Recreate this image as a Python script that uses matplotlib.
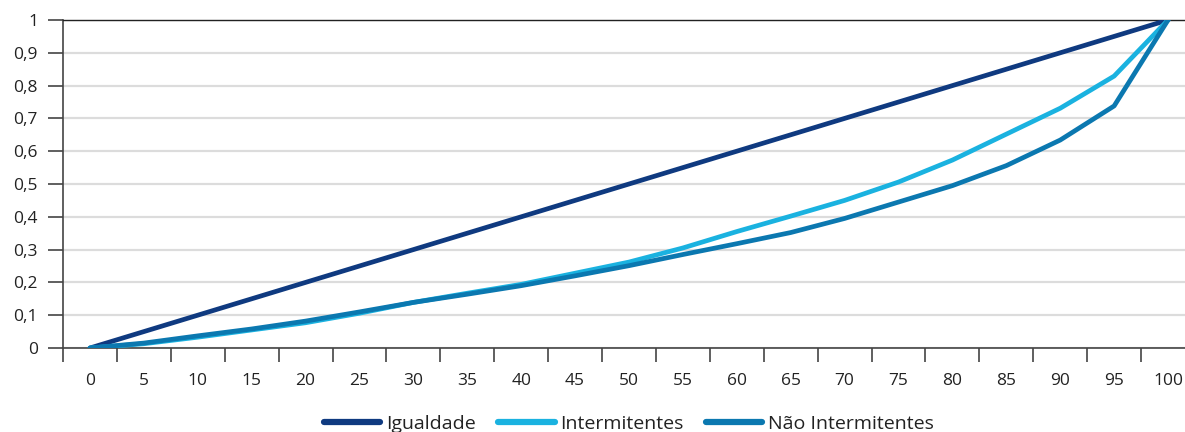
import matplotlib
matplotlib.use("Agg")
import matplotlib.pyplot as plt
import numpy as np

plt.rcParams["font.family"] = ["Open Sans", "DejaVu Sans"]

# percentis da populacao
pcts = [0, 5, 10, 15, 20, 25, 30, 35, 40, 45, 50,
        55, 60, 65, 70, 75, 80, 85, 90, 95, 100]

igualdade = [0, 0.05, 0.10, 0.15, 0.20, 0.25, 0.30, 0.35, 0.40, 0.45, 0.50,
             0.55, 0.60, 0.65, 0.70, 0.75, 0.80, 0.85, 0.90, 0.95, 1.0]
intermitentes = [0, 0.013, 0.033, 0.055, 0.077, 0.106, 0.139, 0.167, 0.194, 0.228, 0.262,
                 0.305, 0.355, 0.402, 0.450, 0.506, 0.573, 0.652, 0.731, 0.829, 1.0]
nao_intermitentes = [0, 0.015, 0.037, 0.058, 0.082, 0.110, 0.139, 0.164, 0.190, 0.220, 0.251,
                     0.285, 0.318, 0.352, 0.395, 0.445, 0.495, 0.556, 0.634, 0.738, 1.0]

yticks = [0, 0.1, 0.2, 0.3, 0.4, 0.5, 0.6, 0.7, 0.8, 0.9, 1.0]
ytick_labels = ["0", "0,1", "0,2", "0,3", "0,4", "0,5", "0,6", "0,7", "0,8", "0,9", "1"]

fig = plt.figure(figsize=(11.85, 4.32), dpi=100)
ax = fig.add_axes([63 / 1185, 1 - 348 / 432, (1195 - 63) / 1185, 328 / 432])

ax.plot(pcts, igualdade, color="#0f3a80", lw=3.4, label="Igualdade", solid_capstyle="round", zorder=3)
ax.plot(pcts, intermitentes, color="#1ab2e0", lw=3.4, label="Intermitentes", solid_capstyle="round", zorder=4)
ax.plot(pcts, nao_intermitentes, color="#0b78b0", lw=3.4, label="Não Intermitentes", solid_capstyle="round", zorder=5)

ax.set_xlim(-2.5, 102.5)
ax.set_ylim(0, 1)
ax.set_xticks(pcts)
ax.set_xticklabels([str(p) for p in pcts])
ax.set_xticks(np.arange(-2.5, 103, 5), minor=True)
ax.tick_params(axis="x", which="major", length=0, pad=18, labelsize=12.5, labelcolor="#222222")
ax.tick_params(axis="x", which="minor", length=10, width=1.2, color="#444444", direction="out")

ax.set_yticks(yticks)
ax.set_yticklabels(ytick_labels)
ax.tick_params(axis="y", length=11, width=1.2, color="#444444", pad=7, labelsize=12.5, labelcolor="#222222")

ax.grid(axis="y", color="#dcdcdc", lw=1.6, zorder=0)
ax.set_axisbelow(True)

for side in ["left", "bottom"]:
    ax.spines[side].set_color("#444444")
    ax.spines[side].set_linewidth(1.2)
ax.spines["top"].set_color("#222222")
ax.spines["top"].set_linewidth(1.0)
ax.spines["right"].set_visible(False)

leg = ax.legend(loc="center", bbox_to_anchor=(0.5, -0.232), ncol=3, frameon=False,
                fontsize=14, handlelength=2.9, handletextpad=0.3, columnspacing=1.15)
for line in leg.get_lines():
    line.set_linewidth(4.5)
    line.set_solid_capstyle("round")
for t in leg.get_texts():
    t.set_color("#222222")

fig.savefig("out.png", dpi=100)
